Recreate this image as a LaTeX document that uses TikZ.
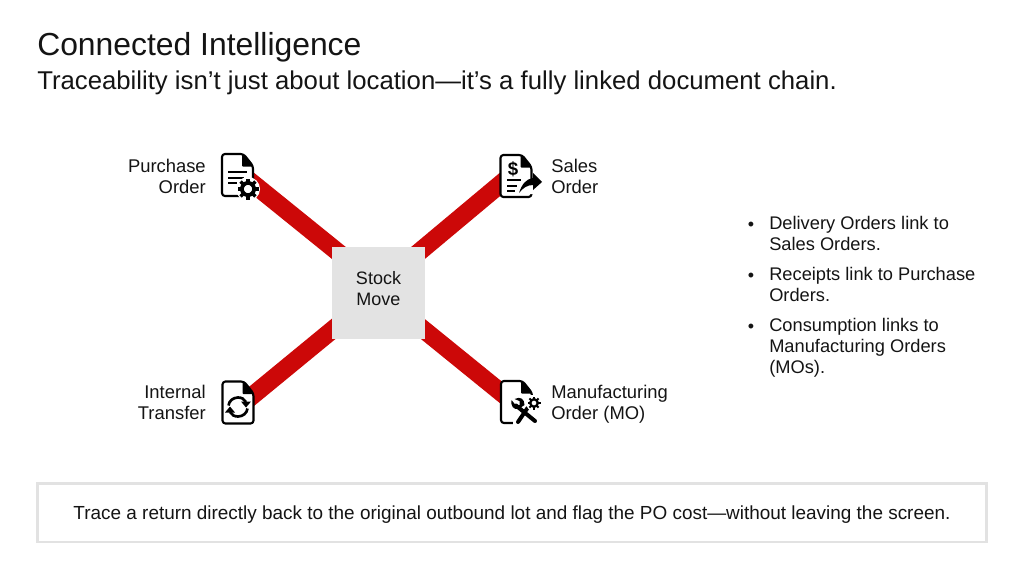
\documentclass[tikz,border=0pt]{standalone}
\usepackage{fontspec}
\setmainfont{Liberation Sans}
\usetikzlibrary{backgrounds,calc}
\definecolor{ink}{HTML}{141414}
\definecolor{bandred}{HTML}{CC0808}
\definecolor{hubgray}{HTML}{E3E3E3}
\definecolor{framegray}{HTML}{E2E2E2}
\newcommand{\fsz}[2]{\fontsize{#1pt}{#2pt}\selectfont}
\newcommand{\docshape}{%
  \filldraw[fill=white,draw=black,line width=1.6pt,line join=round,rounded corners=2.2pt]
    (-15.5,-21) -- (6,-21) -- (15.5,-9) -- (15.5,21) -- (-15.5,21) -- cycle;
  \fill[black,rounded corners=0.6pt] (4.5,-21.5) -- (16,-8.5) -- (4.5,-8.5) -- cycle;
}
\newcommand{\gearicon}[3]{% x, y, r
  \begin{scope}[shift={(#1,#2)}]
    \fill[white] (0,0) circle (#3+1.5);
    \foreach \a in {0,45,...,315}{\draw[black,line width=#3*0.24pt] (\a:#3*0.6) -- (\a:#3);}
    \draw[black,line width=#3*0.27pt] (0,0) circle (#3*0.58);
  \end{scope}
}
\newcommand{\cyclearrow}{%
  \draw[black,line width=2pt] (-9.5,-1.5) .. controls (-9,-6) and (-5,-9.5) .. (0,-9.5) .. controls (3.5,-9.5) and (6.5,-8) .. (8,-5);
  \fill[black] (3,-5.5) -- (13,-5.5) -- (8,0.5) -- cycle;
}
\tikzset{
  x=0.75pt,y=-0.75pt,
  band/.style={bandred,line width=13.5pt},
  hub/.style={fill=hubgray,minimum width=70pt,minimum height=69pt,inner sep=0pt,align=center,text=ink,font=\fsz{13.5}{15.75},text depth=7.5pt},
  docnode/.style={minimum width=23pt,minimum height=31.5pt,inner sep=0pt},
  lab/.style={text=ink,font=\fsz{13.8}{15.75},inner sep=0pt},
  bul/.style={text=ink,font=\fsz{13.7}{15.75},inner sep=0pt,anchor=west,align=left},
  dot/.style={text=ink,font=\fsz{13.5}{15.75},inner sep=0pt},
  iconline/.style={black,line width=1.5pt}
}
\begin{document}
\begin{tikzpicture}
\useasboundingbox (0,0) rectangle (1024,571);
% titles
\node[anchor=west,inner sep=0pt,text=ink,font=\fsz{23.9}{28}] (title) at (37,47) {Connected Intelligence};
\node[anchor=west,inner sep=0pt,text=ink,font=\fsz{19.3}{22}] (subtitle) at (37,83) {Traceability isn’t just about location—it’s a fully linked document chain.};
% nodes
\node[hub] (stock) at (378.5,293) {Stock\\Move};
\node[docnode] (po) at (237.5,175) {};
\node[docnode] (so) at (516,176) {};
\node[docnode] (it) at (238,402.5) {};
\node[docnode] (mo) at (516.5,402) {};
% connectors
\begin{scope}[on background layer]
  \draw[band] ($(stock.center)+(0,-8)$) -- ($(po.center)+(0,-4)$);
  \draw[band] ($(stock.center)+(0,-7)$) -- ($(so.center)+(0,-5)$);
  \draw[band] ($(stock.center)+(0,-1)$) -- ($(it.center)+(0,5)$);
  \draw[band] ($(stock.center)+(0,0)$) -- ($(mo.center)+(0,3)$);
\end{scope}
% purchase order icon
\begin{scope}[shift={(po.center)}]
  \docshape
  \draw[iconline] (-9.5,-3) -- (9.5,-3);
  \draw[iconline] (-9.5,2.5) -- (6.5,2.5);
  \draw[iconline] (-9.5,8) -- (-0.5,8);
  \gearicon{10.5}{14}{10.5}
\end{scope}
% sales order icon
\begin{scope}[shift={(so.center)}]
  \docshape
  \node[inner sep=0pt,font=\bfseries\fsz{14}{15},text=black] (dollar) at (-3,-7) {\$};
  \draw[iconline] (-9,4) -- (5,4);
  \draw[iconline] (-9,10) -- (1,10);
  \draw[iconline] (-9,15) -- (-1,15);
  \fill[white] (2,18) -- (6,3) -- (27,3) -- (27,8) -- (18,18) -- cycle;
  \fill[black] (3,17) .. controls (6,8) and (10,3) .. (17,2) -- (17,-3) -- (26,6) -- (17,14) -- (17,9) .. controls (11,9) and (7,12) .. cycle;
\end{scope}
% internal transfer icon
\begin{scope}[shift={(it.center)}]
  \docshape
  \begin{scope}[shift={(0,4.5)}]
    \cyclearrow
    \begin{scope}[rotate=180]
      \cyclearrow
    \end{scope}
  \end{scope}
\end{scope}
% manufacturing order icon
\begin{scope}[shift={(mo.center)}]
  \docshape
  \fill[white] (-3.5,-7) -- (20,-7) -- (26,24) -- (-3.5,24) -- cycle;
  \draw[black,line width=3pt,line cap=round] (1.5,20) -- (11,6);
  \draw[black,line width=3pt,line cap=round] (-0.5,3.5) -- (18.5,19);
  \fill[black] (-2,-3) -- (3,-1) -- (3,3) -- (-1,3) -- (-5,-2) .. controls (-6,4) and (-3,8) .. (2,7) -- (8,3) .. controls (8,-3) and (4,-6) .. cycle;
  \gearicon{17.5}{1}{6.5}
\end{scope}
% labels
\node[lab,anchor=east,align=right] (polab) at (206,176.5) {Purchase\\Order};
\node[lab,anchor=west,align=left] (solab) at (551,176.5) {Sales\\Order};
\node[lab,anchor=east,align=right] (itlab) at (206,402.5) {Internal\\Transfer};
\node[lab,anchor=west,align=left] (molab) at (551,404.5) {Manufacturing\\Order (MO)};
% bullets
\node[dot] (d1) at (751,226) {•};
\node[dot] (d2) at (751,277) {•};
\node[dot] (d3) at (751,328) {•};
\node[bul] (b1) at (769,233.5) {Delivery Orders link to\\Sales Orders.};
\node[bul] (b2) at (769,284.5) {Receipts link to Purchase\\Orders.};
\node[bul] (b3) at (769,348) {Consumption links to\\Manufacturing Orders\\(MOs).};
% takeaway
\node[draw=framegray,line width=2pt,fill=white,minimum width=712pt,minimum height=44pt,inner sep=0pt,text=ink,font=\fsz{14.2}{16},text depth=0pt] (take) at (512,512.5) {Trace a return directly back to the original outbound lot and flag the PO cost—without leaving the screen.};
\end{tikzpicture}
\end{document}
